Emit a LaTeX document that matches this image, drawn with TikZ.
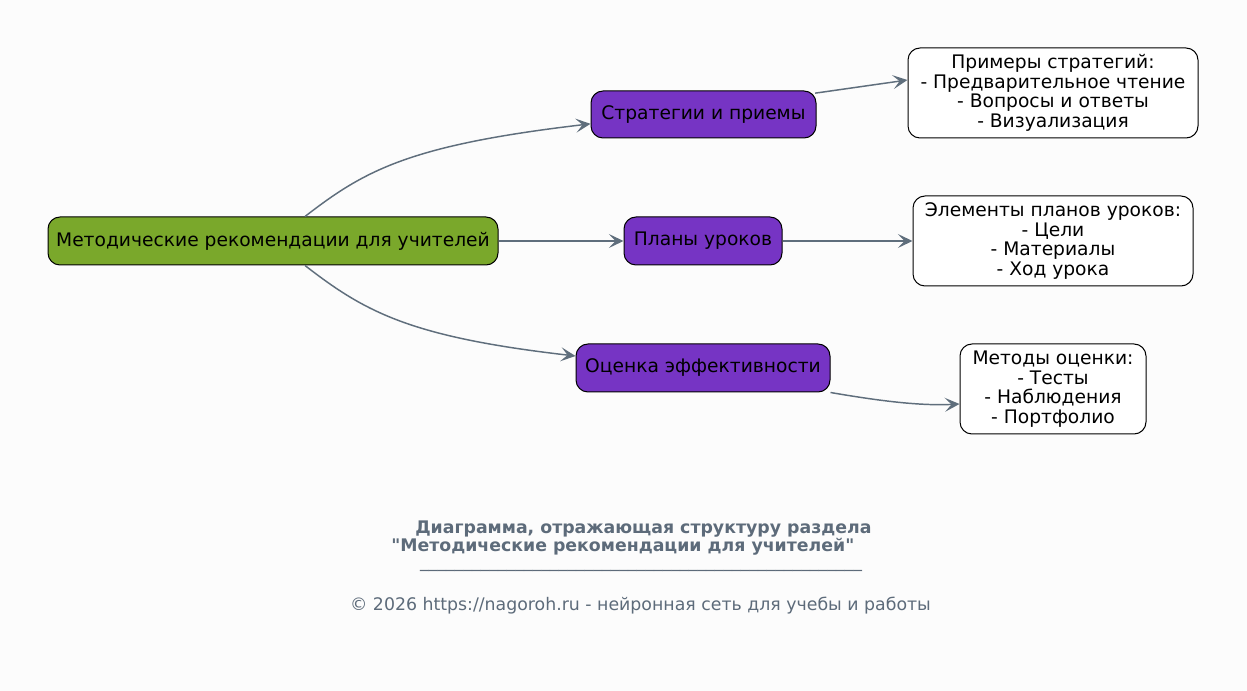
\documentclass[tikz,border=0pt]{standalone}
\usepackage{fontspec}
\setmainfont{DejaVu Sans}
\newfontfamily\plainfont{DejaVu Sans}
\usetikzlibrary{arrows.meta}
\definecolor{bg}{HTML}{FCFCFC}
\definecolor{rootgreen}{HTML}{7AA82B}
\definecolor{topicpurple}{HTML}{7634C4}
\definecolor{edgegray}{HTML}{5F6E7C}
\definecolor{titlegray}{HTML}{5D6B7A}
\tikzset{
  box/.style={draw=black, line width=0.75pt, rounded corners=9pt, minimum height=36pt, inner sep=0pt,
    font=\fontsize{14}{14.6}\selectfont, align=center},
  rootbox/.style={box, fill=rootgreen},
  topicbox/.style={box, fill=topicpurple},
  leafbox/.style={box, fill=white, minimum height=67.5pt},
  conn/.style={draw=edgegray, line width=1.1pt, -{Stealth[length=11pt,width=10.5pt,inset=5pt]}},
  titletext/.style={inner sep=0pt, text=titlegray, font=\plainfont\bfseries\fontsize{13}{15}\selectfont},
  foottext/.style={inner sep=0pt, text=titlegray, font=\fontsize{13}{15}\selectfont},
}
\begin{document}
\begin{tikzpicture}[x=0.75pt,y=-0.75pt]
\fill[bg] (0,0) rectangle (1247,691);
\useasboundingbox (0,0) rectangle (1247,691);
\node[rootbox, minimum width=337.5pt] (root) at (273,241) {Методические рекомендации для учителей};
\node[topicbox, minimum width=168.75pt, minimum height=35.25pt] (strat) at (703.5,114.5) {Стратегии и приемы};
\node[topicbox, minimum width=118.5pt] (plans) at (703,241) {Планы уроков};
\node[topicbox, minimum width=190.5pt] (eval) at (703,368) {Оценка эффективности};
\node[leafbox, minimum width=217.5pt] (ex) at (1053,93) {Примеры стратегий:\\- Предварительное чтение\\- Вопросы и ответы\\- Визуализация};
\node[leafbox, minimum width=210pt] (el) at (1053,241) {Элементы планов уроков:\\- Цели\\- Материалы\\- Ход урока};
\node[leafbox, minimum width=139.5pt] (me) at (1053,389) {Методы оценки:\\- Тесты\\- Наблюдения\\- Портфолио};

\draw[conn] ([xshift=24pt]root.north) .. controls (365,170) and (410,145) .. ([yshift=-7pt]strat.west);
\draw[conn] (root.east) -- (plans.west);
\draw[conn] ([xshift=24pt]root.south) .. controls (365,312) and (410,337) .. ([yshift=9pt]eval.west);
\draw[conn] ([xshift=-1pt,yshift=-2pt]strat.north east) -- ([yshift=9.75pt]ex.west);
\draw[conn] (plans.east) -- (el.west);
\draw[conn] (eval.south east) .. controls (880,401) and (920,406) .. ([yshift=-11.25pt]me.west);

\node[anchor=west, titletext] (t1) at (415,529) {Диаграмма, отражающая структуру раздела};
\node[anchor=west, titletext] (t2) at (391,547) {"Методические рекомендации для учителей"};
\node[anchor=center, foottext] (t3) at (641,570) {\_\_\_\_\_\_\_\_\_\_\_\_\_\_\_\_\_\_\_\_\_\_\_\_\_\_\_\_\_\_\_\_\_\_\_\_\_\_\_\_\_\_\_\_\_\_\_\_\_\_\_};
\node[anchor=center, foottext] (t4) at (640.5,606) {© 2026 https://nagoroh.ru - нейронная сеть для учебы и работы};
\end{tikzpicture}
\end{document}
